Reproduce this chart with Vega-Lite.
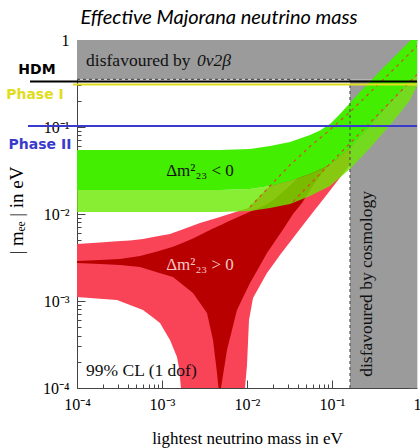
{
"$schema":"https://vega.github.io/schema/vega-lite/v6.json",
"width":340,"height":348,
"autosize":"none",
"padding":{"left":77,"top":40,"right":3,"bottom":60},
"background":"white",
"config":{"view":{"stroke":null}},
"title":{"text":"Effective Majorana neutrino mass","font":"Lato","fontStyle":"italic","fontWeight":"normal","fontSize":20,"color":"#000","anchor":"middle","frame":"group","dx":-28,"offset":4},
"datasets":{
"lightRed":[
{"m":0.0001,"hi":0.00452,"lo":0.001112},
{"m":0.0001865,"hi":0.0047,"lo":0.001063},
{"m":0.0002954,"hi":0.00486,"lo":0.001027},
{"m":0.0004202,"hi":0.00496,"lo":0.000899},
{"m":0.0005976,"hi":0.00517,"lo":0.000788},
{"m":0.0007627,"hi":0.0054,"lo":0.000657},
{"m":0.0009473,"hi":0.00562,"lo":0.000559},
{"m":0.001114,"hi":0.00578,"lo":0.000427},
{"m":0.001242,"hi":0.00589,"lo":0.000356},
{"m":0.001384,"hi":0.00613,"lo":0.000276},
{"m":0.001501,"hi":0.00629,"lo":0.000227},
{"m":0.001585,"hi":0.00643,"lo":0.000171},
{"m":0.001673,"hi":0.00655,"lo":0.0001},
{"m":0.002799,"hi":0.00786,"lo":0.0001},
{"m":0.004814,"hi":0.00924,"lo":0.0001},
{"m":0.009473,"hi":0.01138,"lo":0.0001},
{"m":0.01,"hi":0.0116,"lo":0.000184},
{"m":0.01056,"hi":0.0119,"lo":0.000605},
{"m":0.01177,"hi":0.01338,"lo":0.001083},
{"m":0.01422,"hi":0.0161,"lo":0.001507},
{"m":0.01718,"hi":0.01938,"lo":0.002098},
{"m":0.02022,"hi":0.02278,"lo":0.002615},
{"m":0.02444,"hi":0.0277,"lo":0.003378},
{"m":0.03205,"hi":0.03657,"lo":0.004767},
{"m":0.04202,"hi":0.04671,"lo":0.00672},
{"m":0.05816,"hi":0.06242,"lo":0.01011},
{"m":0.08272,"hi":0.0831,"lo":0.01568},
{"m":0.1145,"hi":0.11,"lo":0.02357},
{"m":0.1628,"hi":0.1487,"lo":0.03657},
{"m":0.2799,"hi":0.2485,"lo":0.0621},
{"m":0.4814,"hi":0.4174,"lo":0.1054},
{"m":1,"hi":0.853,"lo":0.2332}
],
"darkRed":[
{"m":0.0001,"hi":0.002884,"lo":0.002734},
{"m":0.0001865,"hi":0.002969,"lo":0.002655},
{"m":0.0003205,"hi":0.00304,"lo":0.002593},
{"m":0.0005509,"hi":0.00329,"lo":0.002459},
{"m":0.0008733,"hi":0.0037,"lo":0.002143},
{"m":0.001347,"hi":0.00421,"lo":0.001887},
{"m":0.001767,"hi":0.00468,"lo":0.001527},
{"m":0.002315,"hi":0.00523,"lo":0.001236},
{"m":0.002799,"hi":0.005735,"lo":0.000948},
{"m":0.003383,"hi":0.00629,"lo":0.000728},
{"m":0.00367,"hi":0.00655,"lo":0.000509},
{"m":0.003981,"hi":0.0068,"lo":0.000356},
{"m":0.004202,"hi":0.00696,"lo":0.00023},
{"m":0.004437,"hi":0.007145,"lo":0.0001487},
{"m":0.00462,"hi":0.00728,"lo":0.0001},
{"m":0.004943,"hi":0.00749,"lo":0.0001},
{"m":0.005362,"hi":0.007775,"lo":0.0001654},
{"m":0.005816,"hi":0.00807,"lo":0.0002734},
{"m":0.00666,"hi":0.0086,"lo":0.000464},
{"m":0.007627,"hi":0.00914,"lo":0.000788},
{"m":0.008972,"hi":0.00982,"lo":0.001097},
{"m":0.01085,"hi":0.01063,"lo":0.00161},
{"m":0.01347,"hi":0.01166,"lo":0.002339},
{"m":0.01718,"hi":0.01293,"lo":0.00356},
{"m":0.02135,"hi":0.01499,"lo":0.00487},
{"m":0.02724,"hi":0.01843,"lo":0.0069},
{"m":0.03477,"hi":0.02302,"lo":0.01},
{"m":0.04437,"hi":0.0289,"lo":0.01338},
{"m":0.05816,"hi":0.03805,"lo":0.02043},
{"m":0.08272,"hi":0.0544,"lo":0.0329},
{"m":0.1628,"hi":0.1054,"lo":0.0655},
{"m":0.4202,"hi":0.2807,"lo":0.1698},
{"m":1,"hi":0.767,"lo":0.4067}
],
"green":[
{"m":0.0001,"U":0.0544,"M":0.01888,"L":0.01054},
{"m":0.004814,"U":0.0544,"M":0.01888,"L":0.01054},
{"m":0.007224,"U":0.0551,"M":0.01913,"L":0.01069},
{"m":0.01085,"U":0.05587,"M":0.01938,"L":0.01083},
{"m":0.01422,"U":0.0581,"M":0.02016,"L":0.01127},
{"m":0.01865,"U":0.0605,"M":0.02098,"L":0.01172},
{"m":0.02444,"U":0.0638,"M":0.02242,"L":0.01236},
{"m":0.03205,"U":0.0672,"M":0.02394,"L":0.01303},
{"m":0.04202,"U":0.07375,"M":0.02627,"L":0.01448},
{"m":0.05509,"U":0.0809,"M":0.02884,"L":0.0161},
{"m":0.07224,"U":0.0912,"M":0.03247,"L":0.01838},
{"m":0.09473,"U":0.1082,"M":0.03657,"L":0.02098},
{"m":0.1242,"U":0.1411,"M":0.0458,"L":0.02627},
{"m":0.1628,"U":0.1888,"M":0.05735,"L":0.0329},
{"m":0.2135,"U":0.2525,"M":0.07674,"L":0.04344},
{"m":0.2799,"U":0.3292,"M":0.1027,"L":0.05735},
{"m":0.367,"U":0.4402,"M":0.1392,"L":0.07775},
{"m":0.4814,"U":0.5736,"M":0.1888,"L":0.1054},
{"m":0.631,"U":0.7474,"M":0.2525,"L":0.1448},
{"m":0.8272,"U":0.974,"M":0.3379,"L":0.2043},
{"m":1,"U":1.204,"M":0.4067,"L":0.296}
],
"dashed":[
{"s":"a","m":0.01085,"e":0.01203},
{"s":"a","m":0.01865,"e":0.02098},
{"s":"a","m":0.03205,"e":0.03657},
{"s":"a","m":0.05509,"e":0.0597},
{"s":"a","m":0.08272,"e":0.0831},
{"s":"a","m":0.1628,"e":0.1487},
{"s":"a","m":0.4202,"e":0.3657},
{"s":"a","m":1,"e":0.853},
{"s":"b","m":0.03477,"e":0.0139},
{"s":"b","m":1,"e":0.4}
],
"gray":[
{"m1":0.0001,"m2":1,"e1":0.352,"e2":1},
{"m1":0.1628,"m2":1,"e1":0.0001,"e2":0.352}
],
"grayEdge":[
{"m1":0.0001,"m2":0.1628,"e1":0.352,"e2":0.352},
{"m1":0.1628,"m2":0.1628,"e1":0.0001,"e2":0.352}
],
"exp":[
{"name":"HDM","m1":0.000028,"m2":1,"e":0.333},
{"name":"Phase I","m1":0.0000897,"m2":1,"e":0.308},
{"name":"Phase II","m1":0.0000265,"m2":1,"e":0.1027}
],
"expLabel":[
{"name":"HDM","m":0.00003384,"e":0.4518},
{"name":"Phase I","m":0.00003205,"e":0.2332},
{"name":"Phase II","m":0.0000367,"e":0.0621}
],
"noteLeft":[
{"t":"disfavoured by","m":0.000128,"e":0.5026},
{"t":"99% CL (1 dof)","m":0.000128,"e":0.0001374}
],
"noteItalic":[{"t":"0ν2β","m":0.00258,"e":0.5026}],
"noteIH":[{"t":"Δm²₂₃  <  0","m":0.0028,"e":0.02734}],
"noteNH":[{"t":"Δm²₂₃  >  0","m":0.0028,"e":0.00227}],
"noteCosmo":[{"t":"disfavoured by cosmology","m":0.258,"e":0.00157}]
},
"resolve":{"axis":{"x":"independent","y":"independent"}},
"layer":[
{"data":{"name":"lightRed"},"mark":{"type":"area","color":"#f94458","clip":true},
 "encoding":{"x":{"field":"m","type":"quantitative","scale":{"type":"log","domain":[0.0001,1],"nice":false},"axis":null},
 "y":{"field":"hi","type":"quantitative","scale":{"type":"log","domain":[0.0001,1],"nice":false},"axis":null},
 "y2":{"field":"lo"}}},
{"data":{"name":"darkRed"},"mark":{"type":"area","color":"#b80000","clip":true},
 "encoding":{"x":{"field":"m","type":"quantitative","scale":{"type":"log","domain":[0.0001,1],"nice":false},"axis":null},
 "y":{"field":"hi","type":"quantitative","scale":{"type":"log","domain":[0.0001,1],"nice":false},"axis":null},
 "y2":{"field":"lo"}}},
{"data":{"name":"gray"},"mark":{"type":"rect","color":"#9b9b9b","clip":true},
 "encoding":{
 "x":{"field":"m1","type":"quantitative","scale":{"type":"log","domain":[0.0001,1],"nice":false},
   "axis":{"orient":"bottom","values":[0.0001,0.0002,0.0003,0.0004,0.0005,0.0006,0.0007,0.0008,0.0009,0.001,0.002,0.003,0.004,0.005,0.006,0.007,0.008,0.009,0.01,0.02,0.03,0.04,0.05,0.06,0.07,0.08,0.09,0.1,0.2,0.3,0.4,0.5,0.6,0.7,0.8,0.9,1],
   "labelExpr":"datum.value==1?'1':datum.value==0.1?'10⁻¹':datum.value==0.01?'10⁻²':datum.value==0.001?'10⁻³':datum.value==0.0001?'10⁻⁴':''",
   "labelFont":"Liberation Serif","labelFontSize":16,"labelColor":"#000","labelPadding":16,"labelOverlap":false,"labelFlush":false,
   "tickColor":"#444","tickSize":{"condition":{"test":"datum.value==1||datum.value==0.1||datum.value==0.01||datum.value==0.001||datum.value==0.0001","value":-8},"value":-4},
   "domainColor":"#444","grid":false,
   "title":"lightest neutrino mass in eV","titleFont":"Liberation Serif","titleFontSize":17,"titleFontWeight":"normal","titleColor":"#000","titleY":55,"titleBaseline":"alphabetic"}},
 "x2":{"field":"m2"},
 "y":{"field":"e1","type":"quantitative","scale":{"type":"log","domain":[0.0001,1],"nice":false},
   "axis":{"orient":"left","values":[0.0001,0.0002,0.0003,0.0004,0.0005,0.0006,0.0007,0.0008,0.0009,0.001,0.002,0.003,0.004,0.005,0.006,0.007,0.008,0.009,0.01,0.02,0.03,0.04,0.05,0.06,0.07,0.08,0.09,0.1,0.2,0.3,0.4,0.5,0.6,0.7,0.8,0.9,1],
   "labelExpr":"datum.value==1?'1':datum.value==0.1?'10⁻¹':datum.value==0.01?'10⁻²':datum.value==0.001?'10⁻³':datum.value==0.0001?'10⁻⁴':''",
   "labelFont":"Liberation Serif","labelFontSize":16,"labelColor":"#000","labelPadding":16,"labelOverlap":false,"labelFlush":false,
   "tickColor":"#444","tickSize":{"condition":{"test":"datum.value==1||datum.value==0.1||datum.value==0.01||datum.value==0.001||datum.value==0.0001","value":-8},"value":-4},
   "domainColor":"#444","grid":false,
   "title":"| mₑₑ |  in eV","titleFont":"Liberation Serif","titleFontSize":19,"titleFontWeight":"normal","titleColor":"#000","titleX":-61,"titleY":170,"titleAngle":270,"titleAlign":"center","titleBaseline":"middle"}},
 "y2":{"field":"e2"}}},
{"data":{"name":"green"},"mark":{"type":"area","color":"#6aea00","opacity":0.8,"clip":true},
 "encoding":{"x":{"field":"m","type":"quantitative","scale":{"type":"log","domain":[0.0001,1],"nice":false},"axis":null},
 "y":{"field":"M","type":"quantitative","scale":{"type":"log","domain":[0.0001,1],"nice":false},"axis":null},
 "y2":{"field":"L"}}},
{"data":{"name":"green"},"mark":{"type":"area","color":"#44ee00","clip":true},
 "encoding":{"x":{"field":"m","type":"quantitative","scale":{"type":"log","domain":[0.0001,1],"nice":false},"axis":null},
 "y":{"field":"U","type":"quantitative","scale":{"type":"log","domain":[0.0001,1],"nice":false},"axis":null},
 "y2":{"field":"M"}}},
{"data":{"name":"dashed"},"mark":{"type":"line","color":"#d9482b","strokeDash":[3,4],"strokeWidth":1.2,"clip":true},
 "encoding":{"x":{"field":"m","type":"quantitative","scale":{"type":"log","domain":[0.0001,1],"nice":false},"axis":null},
 "y":{"field":"e","type":"quantitative","scale":{"type":"log","domain":[0.0001,1],"nice":false},"axis":null},
 "detail":{"field":"s"}}},
{"data":{"name":"grayEdge"},"mark":{"type":"rule","color":"#555","strokeDash":[3,3],"strokeWidth":1.2},
 "encoding":{
 "x":{"field":"m1","type":"quantitative","scale":{"type":"log","domain":[0.0001,1],"nice":false},
   "axis":{"orient":"top","values":[0.0001,0.0002,0.0003,0.0004,0.0005,0.0006,0.0007,0.0008,0.0009,0.001,0.002,0.003,0.004,0.005,0.006,0.007,0.008,0.009,0.01,0.02,0.03,0.04,0.05,0.06,0.07,0.08,0.09,0.1,0.2,0.3,0.4,0.5,0.6,0.7,0.8,0.9,1],"labels":false,
   "tickColor":"#555","tickSize":{"condition":{"test":"datum.value==1||datum.value==0.1||datum.value==0.01||datum.value==0.001||datum.value==0.0001","value":-8},"value":-4},
   "domainColor":"#dddddd","grid":false,"title":null}},
 "x2":{"field":"m2"},
 "y":{"field":"e1","type":"quantitative","scale":{"type":"log","domain":[0.0001,1],"nice":false},
   "axis":{"orient":"right","values":[0.0001,0.0002,0.0003,0.0004,0.0005,0.0006,0.0007,0.0008,0.0009,0.001,0.002,0.003,0.004,0.005,0.006,0.007,0.008,0.009,0.01,0.02,0.03,0.04,0.05,0.06,0.07,0.08,0.09,0.1,0.2,0.3,0.4,0.5,0.6,0.7,0.8,0.9,1],"labels":false,
   "tickColor":"#555","tickSize":{"condition":{"test":"datum.value==1||datum.value==0.1||datum.value==0.01||datum.value==0.001||datum.value==0.0001","value":-8},"value":-4},
   "domainColor":"#dddddd","grid":false,"title":null}},
 "y2":{"field":"e2"}}},
{"data":{"name":"exp"},"mark":{"type":"rule","strokeWidth":2,"clip":false},
 "encoding":{"x":{"field":"m1","type":"quantitative","scale":{"type":"log","domain":[0.0001,1],"nice":false},"axis":null},
 "x2":{"field":"m2"},
 "y":{"field":"e","type":"quantitative","scale":{"type":"log","domain":[0.0001,1],"nice":false},"axis":null},
 "color":{"field":"name","type":"nominal","scale":{"domain":["HDM","Phase I","Phase II"],"range":["#000000","#e2dc1e","#3a3acc"]},"legend":null}}},
{"data":{"name":"expLabel"},"mark":{"type":"text","font":"DejaVu Sans","fontWeight":"bold","fontSize":14,"align":"center","baseline":"middle","clip":false},
 "encoding":{"x":{"field":"m","type":"quantitative","scale":{"type":"log","domain":[0.0001,1],"nice":false},"axis":null},
 "y":{"field":"e","type":"quantitative","scale":{"type":"log","domain":[0.0001,1],"nice":false},"axis":null},
 "text":{"field":"name"},
 "color":{"field":"name","type":"nominal","scale":{"domain":["HDM","Phase I","Phase II"],"range":["#000000","#e2dc1e","#3a3acc"]},"legend":null}}},
{"data":{"name":"noteLeft"},"mark":{"type":"text","font":"Liberation Serif","fontSize":17.5,"align":"left","baseline":"alphabetic","color":"#111"},
 "encoding":{"x":{"field":"m","type":"quantitative","scale":{"type":"log","domain":[0.0001,1],"nice":false},"axis":null},
 "y":{"field":"e","type":"quantitative","scale":{"type":"log","domain":[0.0001,1],"nice":false},"axis":null},
 "text":{"field":"t"}}},
{"data":{"name":"noteItalic"},"mark":{"type":"text","font":"Liberation Serif","fontStyle":"italic","fontSize":17.5,"align":"left","baseline":"alphabetic","color":"#111"},
 "encoding":{"x":{"field":"m","type":"quantitative","scale":{"type":"log","domain":[0.0001,1],"nice":false},"axis":null},
 "y":{"field":"e","type":"quantitative","scale":{"type":"log","domain":[0.0001,1],"nice":false},"axis":null},
 "text":{"field":"t"}}},
{"data":{"name":"noteIH"},"mark":{"type":"text","font":"Liberation Serif","fontSize":17,"align":"center","baseline":"alphabetic","color":"#111"},
 "encoding":{"x":{"field":"m","type":"quantitative","scale":{"type":"log","domain":[0.0001,1],"nice":false},"axis":null},
 "y":{"field":"e","type":"quantitative","scale":{"type":"log","domain":[0.0001,1],"nice":false},"axis":null},
 "text":{"field":"t"}}},
{"data":{"name":"noteNH"},"mark":{"type":"text","font":"Liberation Serif","fontSize":17,"align":"center","baseline":"alphabetic","color":"#f6c8c8"},
 "encoding":{"x":{"field":"m","type":"quantitative","scale":{"type":"log","domain":[0.0001,1],"nice":false},"axis":null},
 "y":{"field":"e","type":"quantitative","scale":{"type":"log","domain":[0.0001,1],"nice":false},"axis":null},
 "text":{"field":"t"}}},
{"data":{"name":"noteCosmo"},"mark":{"type":"text","font":"Liberation Serif","fontSize":17.5,"align":"center","baseline":"middle","angle":270,"color":"#111"},
 "encoding":{"x":{"field":"m","type":"quantitative","scale":{"type":"log","domain":[0.0001,1],"nice":false},"axis":null},
 "y":{"field":"e","type":"quantitative","scale":{"type":"log","domain":[0.0001,1],"nice":false},"axis":null},
 "text":{"field":"t"}}}
]
}
